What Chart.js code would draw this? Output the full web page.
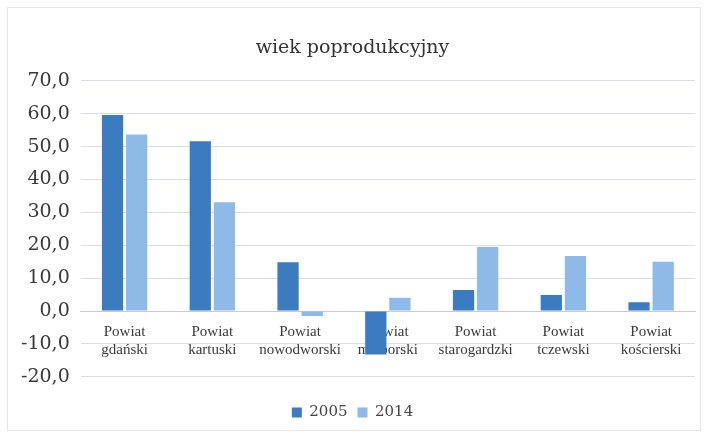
<!DOCTYPE html>
<html>
<head>
<meta charset="utf-8">
<script src="https://cdn.jsdelivr.net/npm/chart.js@4/dist/chart.umd.min.js"></script>
<style>
  html, body { margin: 0; padding: 0; background: #fff; }
  #wrap { width: 709px; height: 438px; position: relative; }
  #frame { position: absolute; left: 7px; top: 7px; width: 692px; height: 422px; border: 1px solid #e6e6ea; }
</style>
</head>
<body>
<div id="wrap">
  <div id="frame"></div>
  <canvas id="chart" width="709" height="438"></canvas>
</div>
<script>
const categories = [
  ['Powiat', 'gdański'],
  ['Powiat', 'kartuski'],
  ['Powiat', 'nowodworski'],
  ['Powiat', 'malborski'],
  ['Powiat', 'starogardzki'],
  ['Powiat', 'tczewski'],
  ['Powiat', 'kościerski']
];
const values2005 = [59.6, 51.6, 14.8, -13.2, 6.4, 4.9, 2.7];
const values2014 = [53.7, 33.1, -1.5, 4.0, 19.5, 16.7, 15.0];
const yMin = -20, yMax = 70, yStep = 10;

const serif = "'DejaVu Serif', serif";
const ctx = document.getElementById('chart').getContext('2d');

new Chart(ctx, {
  type: 'bar',
  data: {
    labels: categories,
    datasets: [
      { label: '2005', data: values2005, backgroundColor: '#3b7cc0' },
      { label: '2014', data: values2014, backgroundColor: '#8dbae9' }
    ]
  },
  options: {
    responsive: false,
    animation: false,
    layout: { padding: { left: 10, right: 14, top: 14, bottom: 8 } },
    datasets: { bar: { barPercentage: 0.88, categoryPercentage: 0.55 } },
    plugins: {
      title: {
        display: true,
        text: 'wiek poprodukcyjny',
        color: '#333',
        font: { family: serif, size: 19, weight: 'normal' },
        padding: { top: 23, bottom: 21 }
      },
      legend: {
        position: 'bottom',
        // empty title only used as a spacer above the legend items
        title: { display: true, text: ' ', font: { size: 1 }, padding: { top: 17, bottom: 0 } },
        labels: {
          color: '#444',
          font: { family: serif, size: 15 },
          boxWidth: 10,
          boxHeight: 10,
          padding: 10
        }
      },
      tooltip: { enabled: false }
    },
    scales: {
      x: {
        position: { y: 0 },
        grid: { display: false },
        border: { color: '#c8cad6' },
        ticks: {
          autoSkip: false,
          color: '#3a3a3a',
          font: { family: "'Liberation Serif', serif", size: 15 },
          maxRotation: 0,
          padding: 4
        }
      },
      y: {
        min: yMin,
        max: yMax,
        ticks: {
          stepSize: yStep,
          color: '#3a3a3a',
          font: { family: serif, size: 19 },
          padding: 11,
          callback: v => v.toFixed(1).replace('.', ',')
        },
        grid: { color: '#dcdde6', drawTicks: false },
        border: { display: false }
      }
    }
  }
});
</script>
</body>
</html>
